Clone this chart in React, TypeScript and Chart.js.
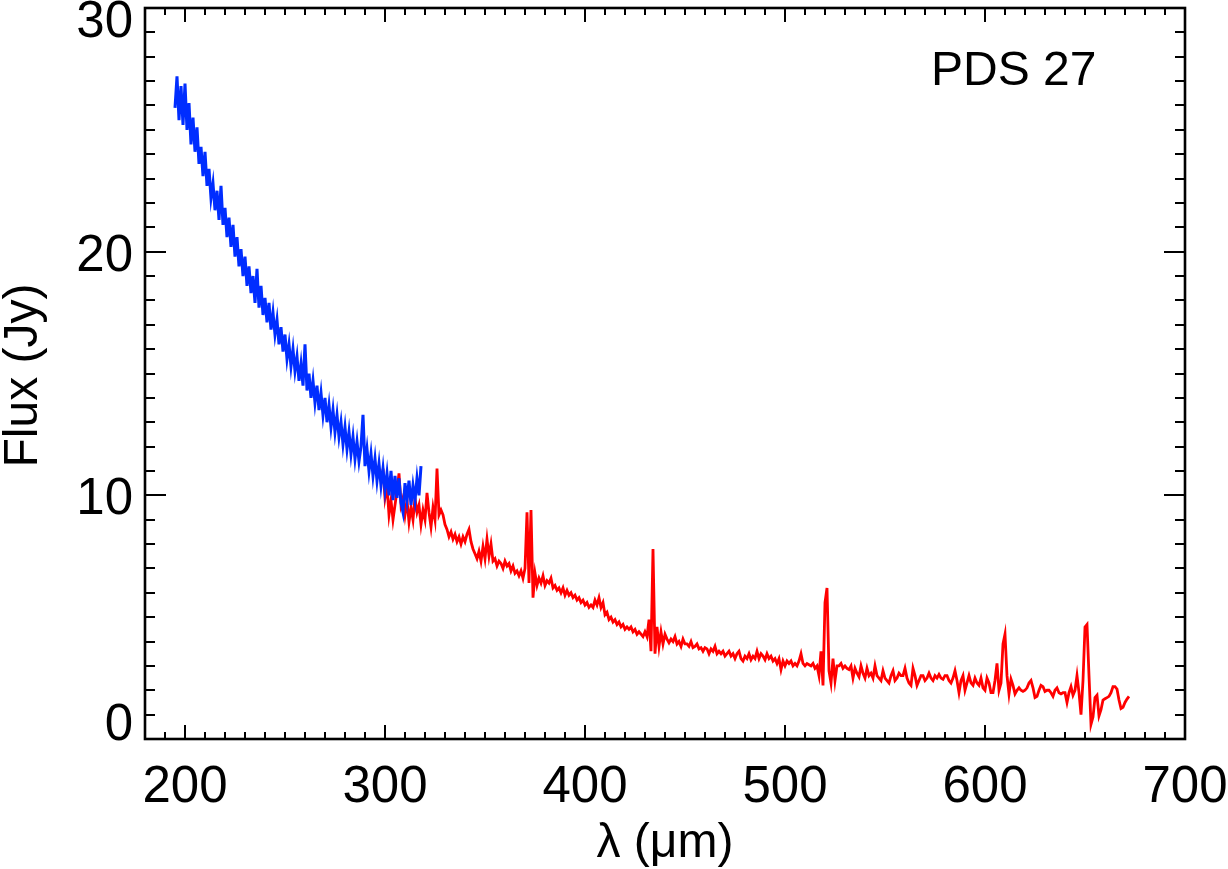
import React, { useEffect, useRef } from 'react';
import { Chart, registerables } from 'chart.js';

Chart.register(...registerables);

// ---- Data ----
const blueStart = 195; // µm, step 1 µm
const blueFlux = [
  25.9, 27.2, 25.4, 26.8, 25.2, 26.9, 25.0, 26.1, 24.4, 25.5,
  24.1, 25.1, 23.6, 24.3, 23.1, 24.1, 22.7, 23.4, 22.2, 22.8,
  21.7, 22.5, 21.3, 22.7, 21.1, 21.8, 20.6, 21.4, 20.2, 21.1,
  19.8, 20.6, 19.4, 20.1, 19.0, 19.8, 18.6, 19.4, 18.3, 19.0,
  17.9, 19.3, 17.7, 18.6, 17.4, 18.1, 17.1, 17.9, 16.8, 17.5,
  16.6, 17.2, 16.2, 16.9, 15.9, 16.6, 15.6, 16.2, 15.3, 16.0,
  15.1, 15.7, 14.7, 15.4, 14.5, 16.2, 14.3, 15.0, 14.0, 14.7,
  13.8, 14.5, 13.5, 14.2, 13.3, 14.0, 13.0, 13.7, 12.8, 13.5,
  12.6, 13.3, 12.4, 13.0, 12.1, 12.8, 11.9, 12.6, 11.7, 12.4,
  11.5, 12.2, 11.4, 12.0, 13.3, 11.2, 11.9, 11.0, 11.7, 10.8,
  11.5, 10.6, 11.3, 10.4, 11.1, 10.2, 10.9, 10.0, 11.0, 9.8,
  10.8, 9.9, 10.7, 9.7, 9.3, 10.5, 9.8, 10.6, 9.6, 10.4,
  9.8, 10.7, 10.0, 11.2,
];

const redStart = 299; // µm, step 1 µm
const redFlux = [
  11.1, 9.9, 10.4, 9.2, 9.8, 9.0, 9.6, 10.2, 10.9, 9.6, 9.9,
  9.2, 9.8, 8.9, 9.5, 9.0, 9.9, 9.3, 9.6, 8.8, 9.4,
  9.0, 10.1, 9.3, 8.7, 9.5, 9.0, 11.1, 9.2, 9.4, 9.2,
  8.8, 8.6, 8.3, 8.5, 8.2, 8.4, 8.1, 8.3, 8.0, 8.3,
  8.1, 8.4, 8.6, 8.1, 7.8, 7.6, 7.4, 7.7, 7.3, 7.9,
  7.4, 8.2, 7.5, 8.0, 7.3, 7.4, 7.1, 7.3, 7.2, 7.0,
  7.3, 7.1, 7.2, 6.9, 7.1, 6.8, 6.9, 6.7, 6.9, 6.6,
  7.0, 9.3, 6.4, 9.4, 5.8, 6.8, 6.3, 6.6, 6.4, 6.7,
  6.3, 6.5, 6.4, 6.6, 6.2, 6.3, 6.1, 6.2, 6.0, 6.2,
  5.9, 6.1, 5.9, 6.0, 5.8, 5.9, 5.7, 5.8, 5.6, 5.7,
  5.5, 5.6, 5.4, 5.5, 5.4, 5.7, 5.5, 5.8, 5.4, 5.6,
  5.1, 5.2, 4.9, 5.0, 4.8, 4.9, 4.7, 4.8, 4.6, 4.7,
  4.5, 4.6, 4.5, 4.6, 4.4, 4.5, 4.3, 4.4, 4.3, 4.2,
  4.4, 4.2, 4.9, 3.6, 7.8, 3.5, 4.6, 3.8, 4.4, 3.9,
  4.3, 4.1, 3.95, 4.1, 4.0, 4.2, 3.9, 4.0, 3.8, 4.1,
  3.9, 3.9, 3.8, 4.0, 3.75, 3.8, 3.9, 3.7, 3.75, 3.6,
  3.75, 3.7, 3.5, 3.7, 3.6, 3.8, 3.5, 3.6, 3.5, 3.6,
  3.4, 3.5, 3.6, 3.4, 3.5, 3.3, 3.5, 3.6, 3.3, 3.2,
  3.4, 3.3, 3.5, 3.25, 3.4, 3.3, 3.6, 3.3, 3.5, 3.4,
  3.25, 3.5, 3.3, 3.4, 3.2, 3.3, 3.1, 3.3, 2.85, 3.2,
  3.0, 3.2, 3.1, 3.2, 3.0, 3.1, 3.0, 3.2, 3.5, 3.1,
  3.0, 3.1, 3.05, 3.0, 3.1, 2.9, 3.0, 2.6, 3.6, 2.2,
  5.6, 6.2, 2.8, 2.3, 3.3, 2.4, 3.0, 3.0, 3.1, 2.9,
  3.0, 2.9, 2.85, 3.0, 2.5, 2.9, 2.7, 2.55, 3.0, 2.7,
  2.5, 2.9, 2.6, 2.7, 2.5, 3.0, 2.6, 2.5, 2.4, 2.8,
  2.5, 2.4, 2.3, 2.6, 2.8, 2.4, 2.5, 2.7, 2.6, 2.6,
  2.9, 2.5, 2.3, 2.2, 2.9, 2.6, 2.2, 2.4, 2.6, 2.6,
  2.4, 2.5, 2.7, 2.5, 2.4, 2.6, 2.5, 2.65, 2.5, 2.45,
  2.6, 2.6, 2.4, 2.3, 2.5, 2.8, 2.4, 1.9, 2.4, 2.6,
  2.0, 2.3, 2.6, 2.3, 2.2, 2.5, 2.3, 2.2, 2.5, 2.1,
  2.0, 2.5, 2.3, 1.9, 1.9, 2.4, 3.1, 2.0, 2.3, 3.9,
  4.3, 2.6, 1.85, 2.45, 2.2, 1.85, 2.0, 2.1, 2.0, 1.95,
  2.0, 2.1, 2.3, 2.4, 2.1, 1.7, 1.75, 2.0, 2.2, 2.15,
  1.95, 2.0, 2.0, 1.9, 1.75, 2.0, 2.1, 1.9, 1.85, 1.9,
  1.9, 1.5, 1.9, 2.15, 1.8, 2.0, 2.6, 1.9, 1.0, 2.4,
  4.6, 4.7, 2.6, 0.6, 0.9, 1.7, 1.8, 0.95, 1.2, 1.6,
  1.65, 1.7, 1.75, 1.9, 2.15, 2.15, 2.05, 1.6, 1.25, 1.3,
  1.5, 1.64, 1.75,
];

const xTickLabels = [200, 300, 400, 500, 600, 700];
const yTickLabels = [0, 10, 20, 30];
const xTitle = 'λ (μm)';
const yTitle = 'Flux (Jy)';
const objectName = 'PDS 27';

const FONT = '"Liberation Sans", Arial, Helvetica, sans-serif';

function toPoints(start: number, values: number[]) {
  return values.map((v, i) => ({ x: start + i, y: v }));
}

export default function App() {
  const ref = useRef<HTMLCanvasElement>(null);

  useEffect(() => {
    document.body.style.margin = '0';
    const canvas = ref.current;
    if (!canvas) return;

    const framePlugin = {
      id: 'idlFrame',
      afterDatasetsDraw(chart: any) {
        const { ctx, chartArea: a, scales } = chart;
        const xs = scales.x;
        const ys = scales.y;
        ctx.save();
        ctx.strokeStyle = '#000';
        ctx.lineCap = 'butt';
        ctx.lineWidth = 2;
        xs.ticks.forEach((t: any) => {
          const px = Math.round(xs.getPixelForValue(t.value));
          const major = t.value % 100 === 0;
          const len = major ? 14 : 7;
          ctx.beginPath();
          ctx.moveTo(px, a.bottom);
          ctx.lineTo(px, a.bottom - len);
          ctx.moveTo(px, a.top);
          ctx.lineTo(px, a.top + len);
          ctx.stroke();
        });
        ys.ticks.forEach((t: any) => {
          const py = Math.round(ys.getPixelForValue(t.value));
          const major = t.value % 10 === 0;
          const len = major ? 21 : 10;
          ctx.beginPath();
          ctx.moveTo(a.left, py);
          ctx.lineTo(a.left + len, py);
          ctx.moveTo(a.right, py);
          ctx.lineTo(a.right - len, py);
          ctx.stroke();
        });
        ctx.lineWidth = 2.6;
        ctx.strokeRect(a.left, a.top, a.right - a.left, a.bottom - a.top);

        ctx.fillStyle = '#000';
        ctx.font = `51px ${FONT}`;
        ctx.textBaseline = 'alphabetic';
        ctx.textAlign = 'center';
        xTickLabels.forEach((v) => {
          ctx.fillText(String(v), xs.getPixelForValue(v), a.bottom + 63);
        });
        ctx.textAlign = 'right';
        yTickLabels.forEach((v) => {
          let cy = ys.getPixelForValue(v);
          cy = Math.min(Math.max(cy, a.top + 10), a.bottom - 18);
          ctx.fillText(String(v), a.left - 12, cy + 19);
        });

        ctx.font = `48px ${FONT}`;
        ctx.textAlign = 'center';
        ctx.fillText(xTitle, (a.left + a.right) / 2, 857);

        ctx.save();
        ctx.translate(37, (a.top + a.bottom) / 2 + 2);
        ctx.rotate(-Math.PI / 2);
        ctx.fillText(yTitle, 0, 0);
        ctx.restore();

        ctx.textAlign = 'left';
        ctx.fillText(objectName, 931, 85);
        ctx.restore();
      },
    };

    const chart = new Chart(canvas, {
      type: 'line',
      data: {
        datasets: [
          {
            label: 'SSW',
            data: toPoints(blueStart, blueFlux),
            borderColor: 'rgb(0,45,255)',
            borderWidth: 3,
            pointRadius: 0,
            tension: 0,
            fill: false,
          },
          {
            label: 'SLW',
            data: toPoints(redStart, redFlux),
            borderColor: 'rgb(255,0,0)',
            borderWidth: 2.8,
            pointRadius: 0,
            tension: 0,
            fill: false,
          },
        ],
      },
      options: {
        responsive: false,
        maintainAspectRatio: false,
        animation: false,
        events: [],
        layout: { padding: { top: 8, right: 43, left: 0, bottom: 0 } },
        plugins: {
          legend: { display: false },
          tooltip: { enabled: false },
          title: { display: false },
        },
        scales: {
          x: {
            type: 'linear',
            min: 180,
            max: 700,
            ticks: { stepSize: 10, display: false },
            grid: { display: false },
            border: { display: false },
            afterFit: (s: any) => {
              s.height = 130;
            },
          },
          y: {
            type: 'linear',
            min: 0,
            max: 30,
            ticks: { stepSize: 1, display: false },
            grid: { display: false },
            border: { display: false },
            afterFit: (s: any) => {
              s.width = 145;
            },
          },
        },
      },
      plugins: [framePlugin],
    });

    return () => {
      chart.destroy();
    };
  }, []);

  return (
    <div style={{ width: 1228, height: 869, background: '#fff' }}>
      <canvas ref={ref} width={1228} height={869} style={{ display: 'block' }} />
    </div>
  );
}
